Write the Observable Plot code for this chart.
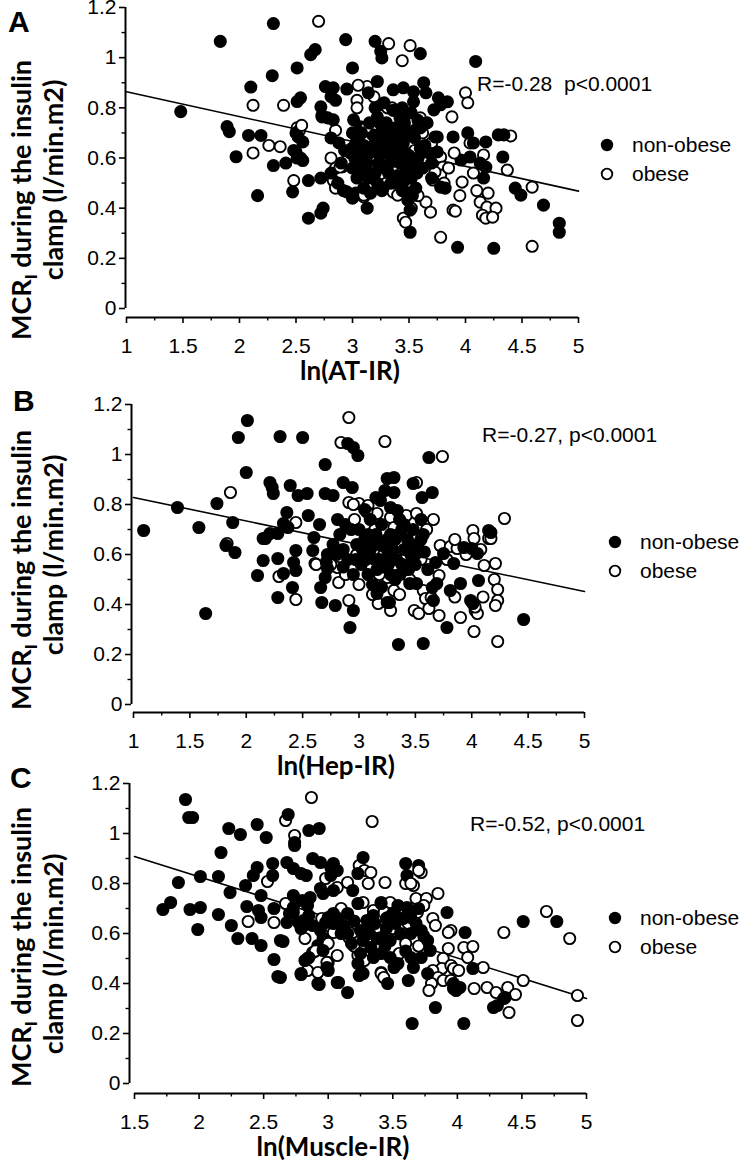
<!DOCTYPE html>
<html><head><meta charset="utf-8">
<script src="https://cdn.jsdelivr.net/npm/d3@7"></script>
<script src="https://cdn.jsdelivr.net/npm/@observablehq/plot@0.6"></script>
<style>
body{margin:0;background:#fff;}
#wrap{position:relative;width:742px;height:1165px;overflow:hidden;background:#fff;}
#wrap svg{position:absolute;left:0;overflow:visible;background:transparent;}
</style></head><body><div id="wrap"></div>
<script>
// ---------- data ----------
const yTicks = [0, 0.2, 0.4, 0.6, 0.8, 1, 1.2];
const yMinor = [0.1, 0.3, 0.5, 0.7, 0.9, 1.1];
const xTicksAB = [1, 1.5, 2, 2.5, 3, 3.5, 4, 4.5, 5];
const xMinorAB = [1.25, 1.75, 2.25, 2.75, 3.25, 3.75, 4.25, 4.75];
const xTicksC = [1.5, 2, 2.5, 3, 3.5, 4, 4.5, 5];
const xMinorC = [1.75, 2.25, 2.75, 3.25, 3.75, 4.25, 4.75];

const groups = ["non-obese", "obese"];
const xLabels = ["ln(AT-IR)", "ln(Hep-IR)", "ln(Muscle-IR)"];
const statLabels = ["R=-0.28  p<0.0001", "R=-0.27, p<0.0001", "R=-0.52, p<0.0001"];
const panelLetters = ["A", "B", "C"];

const fitA = [[1, 0.864], [5, 0.468]];
const fitB = [[1, 0.828], [5, 0.452]];
const fitC = [[1.5, 0.908], [5, 0.34]];

const nonObeseA = [[1.48,0.785],[1.83,1.065],[2.30,1.136],[2.10,0.883],[2.29,0.928],[2.51,0.959],[2.63,1.012],[2.67,1.032],[2.94,1.072],[3.00,0.959],
[2.54,0.84],[2.51,0.825],[1.89,0.725],[1.91,0.705],[2.08,0.69],[2.19,0.69],[1.97,0.605],[2.30,0.57],[2.41,0.58],[2.16,0.45],
[2.47,0.465],[2.50,0.70],[2.48,0.63],[2.51,0.60],[2.56,0.59],[2.52,0.684],[2.56,0.664],[2.61,0.51],[2.72,0.52],[2.81,0.54],
[2.61,0.36],[2.72,0.38],[2.74,0.40],[2.73,0.77],[2.78,0.76],[2.76,0.885],[2.83,0.88],[2.81,0.845],[2.85,0.83],[2.95,0.875],
[2.81,0.68],[2.88,0.66],[3.13,0.40],[3.00,0.44],[3.03,0.46],[2.95,0.465],[3.20,1.065],[3.25,1.025],[3.26,0.999],[3.60,1.016],
[4.09,0.985],[3.22,0.905],[3.14,0.86],[3.36,0.872],[3.45,0.88],[3.54,0.864],[3.63,0.90],[3.65,0.86],[3.54,0.824],[3.76,0.84],
[3.84,0.824],[3.72,0.792],[3.78,0.812],[2.72,0.804],[2.73,0.764],[2.83,0.752],[3.01,0.752],[3.07,0.724],[3.00,0.70],[3.12,0.712],
[3.18,0.692],[2.50,0.624],[2.54,0.60],[3.22,0.764],[3.75,0.684],[3.89,0.684],[4.02,0.70],[4.07,0.66],[4.18,0.664],[4.29,0.692],
[4.34,0.692],[3.96,0.592],[4.04,0.604],[4.13,0.58],[4.18,0.564],[4.16,0.52],[4.33,0.604],[4.44,0.48],[4.49,0.452],[4.69,0.412],
[4.83,0.34],[4.83,0.304],[3.51,0.392],[3.49,0.432],[3.47,0.464],[3.51,0.304],[3.93,0.244],[4.25,0.24],[3.78,0.484],[3.82,0.48],
[3.73,0.684],[3.75,0.624],[3.05,0.68],[3.10,0.65],[3.15,0.62],[3.20,0.66],[3.25,0.70],[3.30,0.68],[3.35,0.64],[3.40,0.62],
[3.45,0.66],[3.50,0.70],[3.55,0.68],[3.60,0.72],[3.02,0.60],[3.08,0.58],[3.12,0.55],[3.18,0.52],[3.22,0.50],[3.28,0.56],
[3.32,0.54],[3.38,0.50],[3.42,0.58],[3.48,0.55],[3.52,0.52],[3.58,0.60],[3.62,0.56],[3.04,0.52],[3.10,0.48],[3.16,0.46],
[3.26,0.47],[3.44,0.47],[3.56,0.48],[3.30,0.74],[3.38,0.72],[3.46,0.74],[3.15,0.74],[2.98,0.62],[3.00,0.56],[3.06,0.63],
[3.34,0.60],[3.50,0.61],[3.64,0.65],[3.68,0.62],[3.40,0.69],[3.12,0.60],[3.24,0.61],[3.36,0.79],[3.44,0.80],[3.52,0.78],
[3.20,0.80],[3.28,0.82],[2.90,0.58],[2.93,0.63],[2.87,0.50],[2.92,0.47],[3.58,0.75],[3.66,0.74],[3.70,0.58],[3.70,0.52],
[3.03,0.66],[3.08,0.70],[3.13,0.58],[3.18,0.64],[3.23,0.58],[3.28,0.64],[3.33,0.58],[3.37,0.66],[3.43,0.70],[3.47,0.62],
[3.53,0.58],[3.57,0.54],[3.60,0.64],[3.14,0.52],[3.20,0.54],[3.34,0.50],[3.40,0.53],[3.46,0.51],[3.06,0.54],[3.00,0.64],
[3.24,0.74],[3.42,0.76],[3.32,0.71],[3.27,0.48],[3.53,0.45],[3.09,0.61],[3.55,0.71],[3.38,0.60]];

const obeseA = [[2.70,1.145],[2.12,0.81],[2.39,0.81],[2.12,0.62],[2.26,0.65],[2.36,0.645],[2.48,0.51],[2.51,0.72],[2.53,0.71],[2.85,0.71],
[2.81,0.60],[2.85,0.56],[2.91,0.565],[2.83,0.51],[2.85,0.48],[3.10,0.445],[3.04,0.83],[3.04,0.80],[3.13,0.885],[3.05,0.89],
[3.32,1.056],[3.51,1.048],[3.44,0.988],[4.00,0.86],[4.02,0.82],[3.19,0.844],[3.27,0.812],[3.31,0.80],[3.35,0.80],[3.45,0.76],
[3.60,0.76],[3.88,0.764],[3.27,0.644],[3.27,0.604],[3.63,0.64],[3.78,0.604],[3.80,0.564],[3.78,0.532],[3.73,0.544],[3.71,0.512],
[3.81,0.50],[3.97,0.504],[4.07,0.54],[3.89,0.392],[3.65,0.424],[3.69,0.384],[3.78,0.284],[3.45,0.36],[3.47,0.344],[4.13,0.424],
[4.19,0.404],[4.15,0.372],[4.18,0.36],[4.20,0.46],[4.16,0.612],[3.36,0.464],[3.40,0.452],[3.10,0.452],[2.89,0.564],[2.95,0.592],
[4.40,0.688],[4.04,0.66],[4.37,0.552],[4.59,0.484],[4.27,0.40],[4.24,0.364],[3.91,0.388],[4.59,0.248],[2.55,0.73],[3.15,0.67],
[3.35,0.70],[3.42,0.64],[3.55,0.63],[3.20,0.56],[3.48,0.50],[3.58,0.45],[3.30,0.50],[3.05,0.56],[3.62,0.70],[3.70,0.66],
[3.65,0.58],[3.90,0.62],[3.85,0.56],[3.95,0.45],[4.10,0.47],[3.52,0.40],[3.38,0.56],[3.12,0.72]];

const nonObeseB = [[1.09,0.696],[1.39,0.788],[1.58,0.708],[1.64,0.364],[1.74,0.804],[1.88,0.728],[1.90,0.608],[1.82,0.636],[1.93,1.068],[2.01,1.136],
[2.00,0.928],[2.30,1.072],[2.50,1.068],[2.70,0.96],[2.21,0.888],[2.23,0.868],[2.24,0.844],[2.39,0.876],[2.36,0.768],[2.46,0.836],
[2.54,0.844],[2.55,0.756],[2.10,0.516],[2.17,0.664],[2.28,0.684],[2.15,0.576],[2.28,0.584],[2.28,0.428],[2.41,0.468],[2.44,0.616],
[2.42,0.568],[2.44,0.536],[2.33,0.524],[2.33,0.724],[2.37,0.708],[2.60,0.668],[2.59,0.616],[2.67,0.408],[2.79,0.396],[2.95,0.376],
[2.92,0.308],[2.66,0.468],[2.70,0.508],[2.70,0.844],[2.77,0.836],[2.86,0.888],[2.94,0.868],[2.90,1.044],[2.95,1.028],[2.99,0.996],
[3.62,0.988],[3.25,0.904],[3.31,0.908],[3.23,0.856],[3.31,0.848],[3.48,0.884],[3.65,0.848],[3.56,0.828],[3.15,0.828],[3.19,0.816],
[3.28,0.788],[3.34,0.776],[2.21,0.684],[2.15,0.664],[2.65,0.72],[2.81,0.74],[2.88,0.72],[2.83,0.68],[2.77,0.64],[2.72,0.60],
[2.71,0.57],[2.72,0.544],[2.80,0.60],[2.86,0.62],[2.90,0.58],[2.86,0.55],[3.16,0.444],[3.25,0.408],[3.35,0.24],[3.57,0.244],
[3.45,0.484],[3.51,0.484],[3.65,0.468],[3.69,0.484],[3.66,0.416],[3.78,0.308],[3.81,0.456],[3.90,0.484],[3.84,0.564],[3.75,0.604],
[3.93,0.628],[4.00,0.624],[4.05,0.604],[4.15,0.696],[4.17,0.688],[3.99,0.416],[4.01,0.404],[4.06,0.496],[3.68,0.568],[3.61,0.54],
[3.27,0.408],[4.46,0.34],[3.00,0.70],[3.05,0.66],[3.10,0.62],[3.15,0.68],[3.20,0.72],[3.25,0.66],[3.30,0.62],[3.35,0.68],
[3.40,0.72],[3.45,0.64],[3.50,0.60],[3.55,0.66],[3.02,0.56],[3.08,0.52],[3.14,0.58],[3.22,0.55],[3.28,0.52],[3.38,0.56],
[3.44,0.54],[3.12,0.48],[3.20,0.47],[3.32,0.50],[3.40,0.62],[3.48,0.70],[3.55,0.74],[3.10,0.74],[2.98,0.64],[2.95,0.52],
[3.18,0.64],[3.26,0.60],[3.36,0.74],[3.05,0.78],[2.93,0.70],[3.50,0.56],[3.58,0.61],
[3.03,0.62],[3.08,0.68],[3.13,0.64],[3.18,0.58],[3.23,0.63],[3.28,0.68],[3.33,0.58],[3.38,0.70],[3.43,0.66],[3.47,0.58],
[3.52,0.64],[3.57,0.68],[3.06,0.58],[3.16,0.54],[3.26,0.56],[3.36,0.52],[3.46,0.60],[2.97,0.58],[3.12,0.66],[3.32,0.66]];

const obeseB = [[2.91,1.148],[2.84,1.048],[1.86,0.848],[2.44,0.728],[1.83,0.644],[2.29,0.512],[2.44,0.42],[2.61,0.564],[2.91,0.416],[2.91,0.808],
[3.00,0.804],[3.08,0.796],[2.81,0.548],[2.82,0.488],[3.23,1.052],[3.74,0.992],[3.51,0.888],[3.16,0.764],[3.28,0.748],[3.42,0.756],
[3.51,0.764],[3.31,0.708],[3.72,0.636],[3.81,0.632],[3.87,0.624],[4.01,0.696],[4.02,0.664],[4.15,0.664],[4.11,0.556],[4.21,0.564],
[3.71,0.516],[3.57,0.456],[3.59,0.424],[3.64,0.428],[3.49,0.376],[3.53,0.364],[3.62,0.384],[3.71,0.356],[3.90,0.348],[4.03,0.376],
[4.05,0.364],[4.02,0.292],[4.23,0.252],[3.25,0.508],[3.34,0.516],[3.31,0.456],[3.28,0.376],[3.17,0.404],[4.29,0.744],[4.17,0.664],
[4.20,0.50],[4.23,0.46],[4.23,0.416],[4.21,0.396],[4.10,0.43],[4.03,0.39],[3.85,0.43],[2.95,0.80],[3.07,0.77],[2.98,0.60],
[3.10,0.56],[3.22,0.60],[3.38,0.64],[3.18,0.52],[3.45,0.50],[2.88,0.52],[2.75,0.56],[2.62,0.56],[3.55,0.58],[3.00,0.48],
[3.12,0.44],[3.36,0.44],[2.96,0.74],[3.14,0.70],[3.42,0.60],[3.60,0.70],[3.66,0.74],[3.78,0.58],[3.95,0.60],[4.08,0.62],[3.85,0.66]];

const nonObeseC = [[1.895,1.136],[1.92,1.064],[1.95,1.064],[1.72,0.696],[1.78,0.724],[1.84,0.804],[1.93,0.696],[2.01,0.704],[1.99,0.616],[2.01,0.828],
[2.17,0.924],[2.15,0.828],[2.15,0.676],[2.23,1.02],[2.32,0.996],[2.24,0.764],[2.36,0.792],[2.25,0.632],[2.30,0.58],[2.37,0.708],
[2.41,0.58],[2.48,0.552],[2.45,1.036],[2.52,0.984],[2.42,0.832],[2.45,0.864],[2.48,0.752],[2.46,0.692],[2.48,0.664],[2.57,0.88],
[2.57,0.832],[2.58,0.70],[2.58,0.496],[2.61,0.428],[2.65,0.568],[2.69,1.076],[2.68,0.884],[2.74,0.964],[2.74,0.952],[2.73,0.86],
[2.79,0.84],[2.83,0.832],[2.73,0.684],[2.77,0.644],[2.81,0.632],[2.79,0.436],[2.85,1.012],[2.93,1.02],[2.88,0.90],[2.94,0.884],
[2.84,0.50],[2.88,0.524],[2.92,0.552],[2.96,0.58],[2.93,0.396],[3.00,0.452],[3.02,0.864],[3.04,0.88],[3.02,0.832],[3.07,0.852],
[3.07,0.404],[3.15,0.364],[3.27,0.904],[3.24,0.432],[3.26,0.444],[2.94,0.78],[2.96,0.76],[3.60,0.88],[3.70,0.872],[3.61,0.832],
[3.23,0.84],[3.04,0.772],[2.86,0.744],[2.84,0.712],[2.73,0.704],[2.70,0.68],[2.81,0.652],[3.92,0.684],[4.06,0.604],[4.12,0.46],
[3.97,0.40],[4.02,0.384],[3.83,0.304],[3.65,0.24],[4.05,0.24],[4.28,0.304],[2.63,0.572],[2.63,0.424],[2.79,0.44],[2.92,0.40],
[3.08,0.404],[2.85,0.504],[2.82,0.492],[2.96,0.532],[2.99,0.464],[3.46,0.40],[3.62,0.412],[4.51,0.648],[4.77,0.648],[4.31,0.312],
[4.36,0.34],[4.37,0.344],[3.97,0.38],[3.99,0.372],[3.41,0.72],[3.54,0.712],[3.61,0.704],[3.64,0.664],[3.54,0.664],[3.46,0.664],
[3.35,0.672],[3.30,0.652],[3.25,0.612],[3.27,0.572],[3.33,0.544],[3.41,0.584],[3.48,0.572],[3.56,0.60],[3.64,0.60],[3.72,0.612],
[3.77,0.572],[3.79,0.532],[3.72,0.504],[3.64,0.504],[3.54,0.48],[3.48,0.504],[3.41,0.52],[3.35,0.504],[3.25,0.52],[3.23,0.48],
[3.27,0.44],[3.51,0.464],[3.66,0.464],[3.77,0.44],[2.85,0.672],[2.88,0.632],[2.94,0.612],[3.04,0.64],[3.12,0.632],[3.15,0.68],
[3.23,0.72],[3.19,0.772],[2.98,0.644],[3.00,0.664],[3.04,0.68],[2.68,0.644],[2.79,0.62],[2.73,0.752],[2.80,0.732],
[3.15,0.60],[3.20,0.65],[3.30,0.62],[3.38,0.58],[3.45,0.62],[3.52,0.64],[3.58,0.66],[3.68,0.64],[3.74,0.59],[3.60,0.53],
[3.44,0.55],[3.32,0.60],[3.18,0.56],[3.10,0.60],[3.36,0.64],[3.50,0.68],[3.70,0.70],[3.08,0.66]];

const obeseC = [[2.87,1.144],[2.67,1.052],[2.74,0.992],[3.34,1.048],[2.53,0.808],[2.67,0.72],[2.38,0.648],[2.58,0.644],[2.98,0.82],[3.07,0.784],
[3.15,0.804],[3.24,0.872],[3.28,0.852],[3.33,0.844],[3.15,0.624],[3.04,0.604],[3.16,0.584],[2.84,0.452],[3.00,0.484],[3.07,0.512],
[3.23,0.512],[3.28,0.492],[3.41,0.444],[3.31,0.80],[3.44,0.804],[3.60,0.80],[3.66,0.792],[3.72,0.844],[3.27,0.724],[3.41,0.724],
[3.48,0.724],[3.35,0.692],[3.68,0.74],[3.76,0.74],[3.85,0.76],[3.74,0.712],[3.69,0.684],[3.81,0.66],[3.83,0.632],[3.95,0.612],
[3.93,0.54],[4.05,0.544],[4.12,0.548],[4.08,0.504],[3.89,0.50],[3.88,0.46],[3.95,0.472],[3.97,0.46],[4.01,0.452],[4.20,0.464],
[3.81,0.452],[3.85,0.424],[3.89,0.412],[3.95,0.412],[4.13,0.38],[3.80,0.40],[3.78,0.372],[4.23,0.384],[4.30,0.364],[3.19,0.604],
[2.92,0.444],[2.99,0.484],[3.06,0.672],[3.23,0.632],[3.41,0.44],[3.43,0.424],[4.36,0.604],[4.69,0.688],[4.87,0.58],[3.93,0.604],
[4.51,0.412],[4.39,0.384],[4.45,0.356],[4.40,0.284],[4.93,0.352],[4.93,0.252],[3.64,0.80],[3.70,0.852],[3.50,0.62],[3.60,0.56],
[3.38,0.62],[3.55,0.52],[3.70,0.55],[3.30,0.58],[3.45,0.66],[3.62,0.64],[3.20,0.55],[3.10,0.70],[2.95,0.66],[3.00,0.56],[2.90,0.53],[2.82,0.58]];

// ---------- drawing ----------
const FONT = "'Liberation Sans', Arial, sans-serif";
const BOLD = "Lato, 'Open Sans', sans-serif";

function interleave(a, b) {
  const out = [];
  const n = Math.max(a.length, b.length);
  for (let i = 0; i < n; i++) {
    if (i < a.length) out.push({x: a[i][0], y: a[i][1], g: groups[0]});
    if (i < b.length) out.push({x: b[i][0], y: b[i][1], g: groups[1]});
  }
  return out;
}

function addText(s, x, y, txt, opts = {}) {
  return s.append("text").attr("x", x).attr("y", y)
    .attr("text-anchor", opts.anchor || "start")
    .attr("font-family", opts.family || FONT)
    .attr("font-weight", opts.weight || 400)
    .attr("font-size", opts.size || 21)
    .attr("fill", "black")
    .style("white-space", "pre")
    .text(txt);
}

function panel(p) {
  const pts = interleave(p.filled, p.open);
  const fit = p.fit.map(([x, y]) => ({x, y}));
  const svg = Plot.plot({
    width: 742,
    height: p.height,
    marginLeft: p.ml, marginRight: p.mr, marginTop: p.mt, marginBottom: p.mb,
    x: {domain: p.xDomain},
    y: {domain: [0, 1.2], insetBottom: p.gap},
    style: {fontFamily: FONT, fontSize: "21px", background: "transparent", color: "black", overflow: "visible"},
    marks: [
      Plot.axisY(yTicks, {tickSize: 6, tickPadding: 3, tickFormat: d => String(d), label: null, dx: p.ydx, fontSize: 21, strokeWidth: 1.6}),
      Plot.axisY(yMinor, {tickSize: 3.5, tickFormat: () => "", label: null, dx: p.ydx, strokeWidth: 1.4}),
      Plot.axisX(p.xTicks, {tickSize: 6, tickPadding: 15, tickFormat: d => String(d), label: null, fontSize: 21, strokeWidth: 1.6}),
      Plot.axisX(p.xMinor, {tickSize: 3.5, tickFormat: () => "", label: null, strokeWidth: 1.4}),
      Plot.ruleY([0], {dy: p.gap, strokeWidth: 2}),
      Plot.ruleX([p.xDomain[0]], {y1: 0, y2: 1.2, dx: p.ydx, strokeWidth: 2}),
      Plot.line(fit, {x: "x", y: "y", stroke: "black", strokeWidth: 1.6}),
      Plot.dot(pts, {x: "x", y: "y", r: 5.6, fill: d => d.g === groups[0] ? "black" : "white", stroke: "black", strokeWidth: 1.9})
    ]
  });
  svg.style.top = p.top + "px";
  const s = d3.select(svg);
  // panel letter
  addText(s, p.letter[0], p.letter[1], p.letterText, {weight: 700, size: 30});
  // y label (two lines, rotated)
  const l1 = s.append("text").attr("transform", `translate(${p.yl1[0]},${p.yl1[1]}) rotate(-90)`)
    .attr("text-anchor", "middle").attr("font-family", BOLD).attr("font-weight", 700).attr("font-size", 27).attr("fill", "black");
  l1.append("tspan").text("MCR");
  l1.append("tspan").attr("dy", 6).attr("font-size", 17).text("I");
  l1.append("tspan").attr("dy", -6).text(" during the insulin");
  s.append("text").attr("transform", `translate(${p.yl2[0]},${p.yl2[1]}) rotate(-90)`)
    .attr("text-anchor", "middle").attr("font-family", BOLD).attr("font-weight", 700).attr("font-size", 27).attr("fill", "black")
    .text("clamp (l/min.m2)");
  // x label
  addText(s, p.xl[0], p.xl[1], p.xLabel, {anchor: "middle", family: BOLD, weight: 700, size: 26});
  // stat annotation
  addText(s, p.stat[0], p.stat[1], p.statText);
  // legend
  s.append("circle").attr("cx", p.leg[0]).attr("cy", p.leg[1]).attr("r", 6.2).attr("fill", "black");
  s.append("circle").attr("cx", p.leg[0]).attr("cy", p.leg[1] + 29).attr("r", 5.3).attr("fill", "white").attr("stroke", "black").attr("stroke-width", 1.8);
  addText(s, p.leg[0] + 25, p.leg[1] + 7, groups[0]);
  addText(s, p.leg[0] + 25, p.leg[1] + 36, groups[1]);
  document.getElementById("wrap").appendChild(svg);
}

panel({top: 0, height: 390, ml: 126, mr: 164, mt: 7, mb: 73, gap: 9, ydx: -1,
  xDomain: [1, 5], xTicks: xTicksAB, xMinor: xMinorAB, filled: nonObeseA, open: obeseA, fit: fitA,
  letter: [8, 32], letterText: panelLetters[0], yl1: [31, 200], yl2: [63, 180], xl: [350, 380], xLabel: xLabels[0],
  stat: [477, 91], statText: statLabels[0], leg: [607, 145]});
panel({top: 390, height: 385, ml: 133, mr: 158, mt: 14, mb: 63, gap: 8, ydx: -2,
  xDomain: [1, 5], xTicks: xTicksAB, xMinor: xMinorAB, filled: nonObeseB, open: obeseB, fit: fitB,
  letter: [13, 21], letterText: panelLetters[1], yl1: [31, 180], yl2: [63, 165], xl: [336, 385], xLabel: xLabels[1],
  stat: [482, 52], statText: statLabels[1], leg: [615, 152]});
panel({top: 775, height: 390, ml: 134, mr: 156, mt: 8, mb: 72, gap: 10, ydx: -5,
  xDomain: [1.5, 5], xTicks: xTicksC, xMinor: xMinorC, filled: nonObeseC, open: obeseC, fit: fitC,
  letter: [10, 13], letterText: panelLetters[2], yl1: [31, 172], yl2: [63, 179], xl: [333, 381], xLabel: xLabels[2],
  stat: [470, 56], statText: statLabels[2], leg: [615, 143]});
</script></body></html>
